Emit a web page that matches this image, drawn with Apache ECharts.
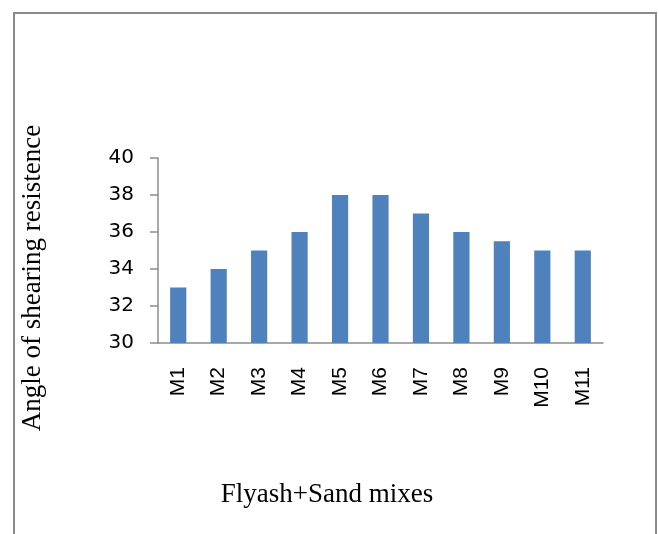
<!DOCTYPE html>
<html>
<head>
<meta charset="utf-8">
<style>
  html, body { margin: 0; padding: 0; background: #fff; }
  #chart { width: 659px; height: 534px; }
</style>
<script src="https://cdn.jsdelivr.net/npm/echarts@6/dist/echarts.min.js"></script>
</head>
<body>
<div id="chart"></div>
<script>
// Mix labels and angle of shearing resistance (degrees)
const categories = ['M1', 'M2', 'M3', 'M4', 'M5', 'M6', 'M7', 'M8', 'M9', 'M10', 'M11'];
const angles = [33, 34, 35, 36, 38, 38, 37, 36, 35.5, 35, 35];
const yMin = 30, yMax = 40, yStep = 2;

const chart = echarts.init(document.getElementById('chart'), null, { renderer: 'canvas' });
const axisGray = '#8c8c8c';
const tickFont = '"DejaVu Sans", Verdana, sans-serif';
const catFont = '"Liberation Sans", Arial, sans-serif';
const serifFont = '"Liberation Serif", "Times New Roman", serif';

chart.setOption({
  animation: false,
  backgroundColor: '#ffffff',
  grid: { left: 158, top: 158, right: 56, bottom: 191, containLabel: false },
  xAxis: {
    type: 'category',
    data: categories,
    axisLine: { lineStyle: { color: axisGray, width: 1.5 } },
    axisTick: { show: false },
    axisLabel: { rotate: 90, margin: 24, fontSize: 21, color: '#000', fontFamily: catFont }
  },
  yAxis: {
    type: 'value',
    min: yMin, max: yMax, interval: yStep,
    splitLine: { show: false },
    axisLine: { show: true, lineStyle: { color: axisGray, width: 1.5 } },
    axisTick: { show: true, length: 8, lineStyle: { color: axisGray, width: 1.5 } },
    axisLabel: { margin: 24, fontSize: 20, color: '#000', fontFamily: tickFont }
  },
  series: [{
    type: 'bar',
    data: angles,
    barWidth: '40%',
    itemStyle: { color: '#4f81bd' }
  }],
  graphic: [
    {
      type: 'rect',
      shape: { x: 14, y: 13, width: 642, height: 540 },
      style: { fill: 'none', stroke: '#8a8a8a', lineWidth: 2 },
      silent: true
    },
    {
      type: 'text',
      x: 33, y: 278,
      rotation: Math.PI / 2,
      style: {
        text: 'Angle of shearing resistence',
        font: '27px ' + serifFont,
        fill: '#000',
        textAlign: 'center',
        textVerticalAlign: 'middle'
      }
    },
    {
      type: 'text',
      x: 327, y: 495,
      style: {
        text: 'Flyash+Sand mixes',
        font: '27px ' + serifFont,
        fill: '#000',
        textAlign: 'center',
        textVerticalAlign: 'middle'
      }
    }
  ]
});
</script>
</body>
</html>
